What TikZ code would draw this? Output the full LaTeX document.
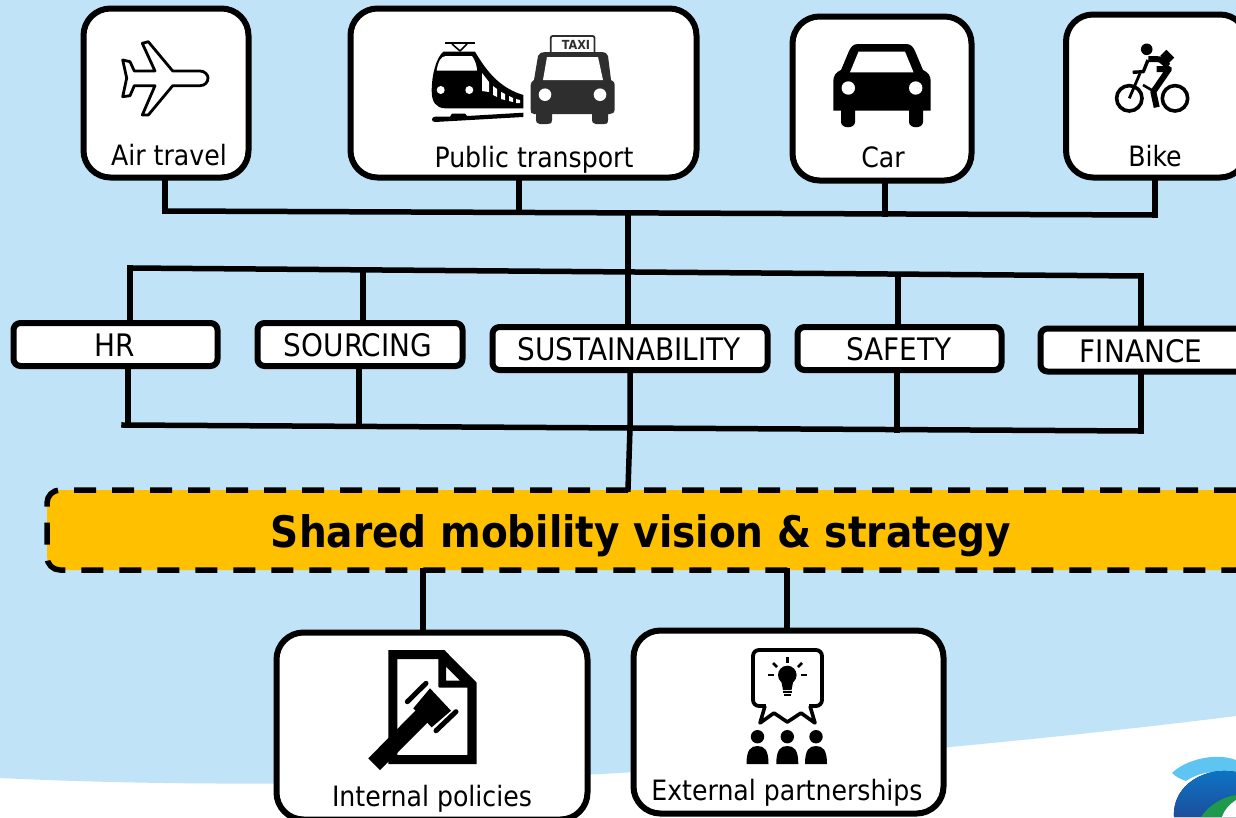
\documentclass[tikz,border=0pt]{standalone}
\usepackage{fontspec}
\setmainfont{DejaVu Sans Condensed}
\usetikzlibrary{positioning,calc}

\definecolor{skyback}{HTML}{C1E3F7}
\definecolor{banneryellow}{HTML}{FFC000}
\definecolor{taxigrey}{HTML}{2E2E2E}
\definecolor{logolight}{HTML}{5EC5F2}
\definecolor{logotop}{HTML}{0B78C8}
\definecolor{logobottom}{HTML}{1C4E9C}
\definecolor{logogreen}{HTML}{1F9A4C}

\begin{document}
\begin{tikzpicture}[
            x = 1pt,
            y = -1pt,
            line join = round,
            bigbox/.style = {draw = black, line width = 6pt, fill = white, rounded corners = 27pt, outer sep = 0pt},
            teambox/.style = {draw = black, line width = 6pt, fill = white, rounded corners = 7pt, outer sep = 0pt, minimum height = 43pt},
            banner/.style = {fill = banneryellow, draw = black, line width = 5.5pt, dash pattern = on 22pt off 16pt, rounded corners = 13pt, outer sep = 0pt},
            boxlabel/.style = {font = \fontsize{28}{32}\selectfont, inner sep = 0pt},
            teamlabel/.style = {font = \fontsize{31}{35}\selectfont, inner sep = 0pt},
            wire/.style = {draw = black, line width = 5.5pt, line cap = rect}
        ]

        \clip (0,0) rectangle (1236,817);

        % background
        \fill[white] (0,0) rectangle (1236,817);
        \fill[skyback] (0,0) -- (1236,0) -- (1236,716) .. controls (1100,733) and (950,748) .. (800,760)
            .. controls (550,782) and (250,790) .. (0,778) -- cycle;

        % logo in the corner
        \fill[logolight] (1172,773) .. controls (1185,760) and (1215,752) .. (1236,760) -- (1236,775)
            .. controls (1210,768) and (1195,775) .. (1186,781) .. controls (1180,779) and (1175,776) .. (1172,773) -- cycle;
        \fill[top color = logotop, bottom color = logobottom] (1236,772) .. controls (1205,766) and (1172,785) .. (1174,817) -- (1236,817) -- cycle;
        \fill[logogreen] (1236,795) .. controls (1222,797) and (1208,806) .. (1201,817) -- (1236,817) -- cycle;
        \fill[white] (1236,800) .. controls (1230,804) and (1224,810) .. (1222,817) -- (1236,817) -- cycle;

        % boxes
        \node[bigbox, minimum width = 165pt, minimum height = 169pt] (air) at (166,93) {};
        \node[bigbox, minimum width = 346pt, minimum height = 169pt] (public) at (523.5,93) {};
        \node[bigbox, minimum width = 179pt, minimum height = 164pt] (car) at (882,98.5) {};
        \node[bigbox, minimum width = 181pt, minimum height = 163pt] (bike) at (1156.5,96) {};

        \node[teambox, minimum width = 204pt] (hr) at (115.5,344.5) {};
        \node[teambox, minimum width = 205pt] (sourcing) at (360,344.5) {};
        \node[teambox, minimum width = 275pt] (sustain) at (630,348.5) {};
        \node[teambox, minimum width = 204pt] (safety) at (899.5,348.5) {};
        \node[teambox, minimum width = 204pt] (finance) at (1142.5,350) {};

        \node[banner, minimum width = 1202pt, minimum height = 80pt] (vision) at (648,530) {};

        \node[bigbox, minimum width = 311pt, minimum height = 187pt] (internal) at (432,726) {};
        \node[bigbox, minimum width = 310pt, minimum height = 183pt] (external) at (788.5,722) {};

        % labels
        \node[boxlabel] (airlabel) at (169,155) {Air travel};
        \node[boxlabel] (publiclabel) at (534,160) {Public transport};
        \node[boxlabel] (carlabel) at (883,157) {Car};
        \node[boxlabel] (bikelabel) at (1155,156) {Bike};
        \node[teamlabel] (hrlabel) at (115,345) {HR};
        \node[teamlabel] (sourcinglabel) at (358,345) {SOURCING};
        \node[teamlabel] (sustainlabel) at (629,349) {SUSTAINABILITY};
        \node[teamlabel] (safetylabel) at (899,349) {SAFETY};
        \node[teamlabel] (financelabel) at (1141,351) {FINANCE};
        \node[inner sep = 0pt, font = \fontsize{43.4}{50}\selectfont\bfseries] (visionlabel) at (641,536) {Shared mobility vision \& strategy};
        \node[boxlabel] (internallabel) at (432,799) {Internal policies};
        \node[boxlabel] (externallabel) at (787,793) {External partnerships};

        % bus coordinates
        \coordinate (topa) at (165,211);
        \coordinate (topb) at (519,212);
        \coordinate (topc) at (628,213);
        \coordinate (topd) at (885,214);
        \coordinate (tope) at (1155,215);
        \coordinate (mida) at (130,268);
        \coordinate (midb) at (363,270);
        \coordinate (midc) at (628,272);
        \coordinate (midd) at (898,275);
        \coordinate (mide) at (1141,276);
        \coordinate (lowstart) at (124,425);
        \coordinate (lowa) at (128,425);
        \coordinate (lowb) at (359,426);
        \coordinate (lowc) at (630,428);
        \coordinate (lowd) at (897,430);
        \coordinate (lowe) at (1141,431);
        \coordinate (visiona) at (628,489);
        \coordinate (visionb) at (423,571);
        \coordinate (visionc) at (787,571);

        % connectors
        \draw[wire] (topa) -- (tope);
        \draw[wire] (mida) -- (mide);
        \draw[wire] (lowstart) -- (lowe);
        \draw[wire] (air.south -| topa) -- (topa);
        \draw[wire] (public.south -| topb) -- (topb);
        \draw[wire] (car.south -| topd) -- (topd);
        \draw[wire] (bike.south -| tope) -- (tope);
        \draw[wire] (topc) -- (midc) -- (sustain.north -| midc);
        \draw[wire] (mida) -- (hr.north -| mida);
        \draw[wire] (midb) -- (sourcing.north -| midb);
        \draw[wire] (midd) -- (safety.north -| midd);
        \draw[wire] (mide) -- (finance.north -| mide);
        \draw[wire] (hr.south -| lowa) -- (lowa);
        \draw[wire] (sourcing.south -| lowb) -- (lowb);
        \draw[wire] (sustain.south -| lowc) -- (lowc) -- (visiona);
        \draw[wire] (safety.south -| lowd) -- (lowd);
        \draw[wire] (finance.south -| lowe) -- (lowe);
        \draw[wire] (visionb) -- (internal.north -| visionb);
        \draw[wire] (visionc) -- (external.north -| visionc);

        % plane
        \draw[line width = 2.8pt, fill = white] (122.7,60) -- (130,61.7) -- (134.3,71) -- (155,71) -- (142.3,43.3)
            -- (148.3,41.7) -- (172.7,71) -- (200,71) .. controls (205,71) and (208,75) .. (208,78)
            .. controls (208,82) and (205,85.7) .. (200,85.7) -- (172.7,85.7) -- (148.3,115) -- (142.3,115)
            -- (155,85.7) -- (134.3,85.7) -- (130,95.7) -- (122.7,96.7) -- (126.7,78) -- cycle;

        % train
        \fill[black] (443.3,51.7) -- (475,51.7) .. controls (487,72) and (500,88) .. (523.3,95) -- (523.3,108.3)
            -- (445,108.3) .. controls (436,108) and (431.7,102) .. (431.7,91) .. controls (431.7,75) and (436,58) .. (443.3,51.7) -- cycle;
        \draw[line width = 1.8pt] (445,43) -- (475,43);
        \draw[line width = 1.6pt] (452,44) -- (460,51) -- (467,44);
        \fill[white] (436.7,70.5) .. controls (438,62) and (441,56) .. (446,56) -- (472,56) .. controls (475,60) and (477,66) .. (477,70.5) -- cycle;
        \fill[white] (482,73) -- (489,82) -- (489,92) -- (482,91) -- cycle;
        \fill[white] (493,86) -- (497,89) -- (497,97) -- (493,95) -- cycle;
        \fill[white] (501,92) -- (505,94) -- (505,100) -- (501,99) -- cycle;
        \fill[white] (509,96) -- (513,98) -- (513,102) -- (509,101) -- cycle;
        \fill[white] (516,99) -- (520,100) -- (520,103) -- (516,103) -- cycle;
        \fill[white] (440.7,90) circle (4pt);
        \fill[white] (469.3,90) circle (4pt);
        \fill[black] (435,116.7) -- (450,116.7) -- (452,113.5) -- (465,113.5) -- (467,116) -- (523.3,112.7) -- (523.3,117)
            -- (435,122) .. controls (431,122) and (431,117) .. (435,116.7) -- cycle;

        % taxi
        \draw[taxigrey, line width = 1.8pt, rounded corners = 2pt] (550.7,52) -- (550.7,36) -- (594.5,36) -- (594.5,52);
        \node[inner sep = 0pt, text = taxigrey, font = \fontsize{12.5}{14}\selectfont\bfseries] (taxisign) at (576,45) {TAXI};
        \fill[taxigrey] (545,52) -- (602,52) .. controls (605,52) and (607,53) .. (608,56) -- (611,80)
            .. controls (614,81) and (614.7,83) .. (614.7,85) -- (614.7,110) .. controls (614.7,112) and (613,114) .. (610,114)
            -- (608,114) -- (608,120) .. controls (608,124) and (606,124) .. (604,124) -- (596,124) .. controls (593,124) and (592,122) .. (592,120) -- (592,114)
            -- (552,114) -- (552,120) .. controls (552,124) and (549,124) .. (547,124) -- (540,124) .. controls (537,124) and (536,122) .. (536,120) -- (536,114)
            -- (534,114) .. controls (531,114) and (530.7,112) .. (530.7,110) -- (530.7,85) .. controls (530.7,83) and (532,81) .. (534,80) -- (538,56)
            .. controls (539,53) and (542,52) .. (545,52) -- cycle;
        \fill[white] (547,57) -- (598,57) -- (603,80) -- (543,80) -- cycle;
        \fill[white] (545,94.7) circle (6.3pt);
        \fill[white] (600,94.7) circle (6.3pt);

        % car
        \fill[black] (858,44) -- (906,44) .. controls (911,44) and (913,47) .. (915,51) -- (923,70)
            .. controls (928,72) and (930.7,76) .. (930.7,81) -- (930.7,110.7) -- (923,110.7) -- (923,122)
            .. controls (923,129) and (909,129) .. (909,122) -- (909,110.7) -- (855,110.7) -- (855,122)
            .. controls (855,129) and (841,129) .. (841,122) -- (841,110.7) -- (833.3,110.7) -- (833.3,81)
            .. controls (833.3,76) and (836,72) .. (841,70) -- (849,51) .. controls (851,47) and (853,44) .. (858,44) -- cycle;
        \fill[white] (850,72.3) -- (858.5,51.7) -- (905,51.7) -- (913.5,72.3) -- cycle;
        \fill[white] (848.3,88) circle (6.7pt);
        \fill[white] (915.7,88) circle (6.7pt);

        % bike
        \draw[line width = 3.6pt] (1129.3,98.3) circle (12.7pt);
        \draw[line width = 3.6pt] (1175,98.3) circle (12.7pt);
        \fill[black] (1146.7,49.3) circle (5.8pt);
        \draw[line width = 11pt, rotate around = {45:(1167.3,56.7)}] (1163,56.7) -- (1171.6,56.7);
        \draw[white, line width = 1pt] (1160.5,51.5) -- (1167,45);
        \draw[line width = 6pt] (1148.3,59) -- (1160,59.3) -- (1168.3,66);
        \draw[line width = 3.4pt] (1148,60) -- (1143.3,71.7) -- (1132.7,72.3);
        \draw[line width = 2.8pt] (1140,73.3) -- (1129.3,98.3);
        \draw[line width = 6pt] (1156.7,69) -- (1169,69) -- (1153.3,91.7) -- (1156.7,107.3);
        \draw[line width = 2.6pt] (1143,85) -- (1153.3,91);

        % document with gavel
        \fill[black, even odd rule] (388.3,650) -- (444.3,650) -- (476.7,682.7) -- (476.7,764) -- (388.3,764) -- cycle
            (397.3,659) -- (397.3,755) -- (467.3,755) -- (467.3,687.7) -- (438.3,687.7) -- (438.3,659) -- cycle
            (446,666.7) -- (446,680.7) -- (460,680.7) -- cycle;
        \fill[white] (400,688) -- (430,678) -- (462,712) -- (434,738) -- cycle;
        \fill[black] (368.3,758.3) -- (380,770) -- (432,718) -- (420,706) -- cycle;
        \fill[black] (430,688.3) -- (451,710.7) -- (431.7,727.3) -- (413.3,708.3) -- cycle;
        \draw[line width = 5pt, line cap = round] (407.3,701.7) -- (426,683.3);
        \draw[line width = 5pt, line cap = round] (436,730.7) -- (456,711.7);

        % bulb and audience
        \draw[line width = 3.8pt, rounded corners = 6pt] (753,650) -- (822,650) -- (822,706) -- (753,706) -- cycle;
        \fill[white] (766,703) rectangle (809,709);
        \draw[line width = 3.6pt] (765,706) -- (760,723) -- (774,713) -- (787.3,722) -- (801,713) -- (815,723) -- (810,706);
        \fill[black] (787.3,675) circle (9.3pt);
        \fill[black] (781,680) -- (793.5,680) -- (791.5,690) -- (783,690) -- cycle;
        \fill[black] (783,691) rectangle (791.5,693);
        \fill[black] (784,694) rectangle (790.5,696);
        \draw[line width = 2.6pt] (787.3,657) -- (787.3,663);
        \draw[line width = 2.6pt] (773,663) -- (777,667);
        \draw[line width = 2.6pt] (802,663) -- (798,667);
        \draw[line width = 2.6pt] (768,675) -- (774,675);
        \draw[line width = 2.6pt] (801,675) -- (807,675);
        \foreach \px in {757.5,787.3,816} {
            \fill[black] (\px,736.7) circle (6.7pt);
            \fill[black] ($(\px,764)+(-11,0)$) .. controls ($(\px,750)+(-11,0)$) and ($(\px,746)+(-7,0)$) .. (\px,746)
                .. controls ($(\px,746)+(7,0)$) and ($(\px,750)+(11,0)$) .. ($(\px,764)+(11,0)$) -- cycle;
        }

    \end{tikzpicture}
\end{document}
